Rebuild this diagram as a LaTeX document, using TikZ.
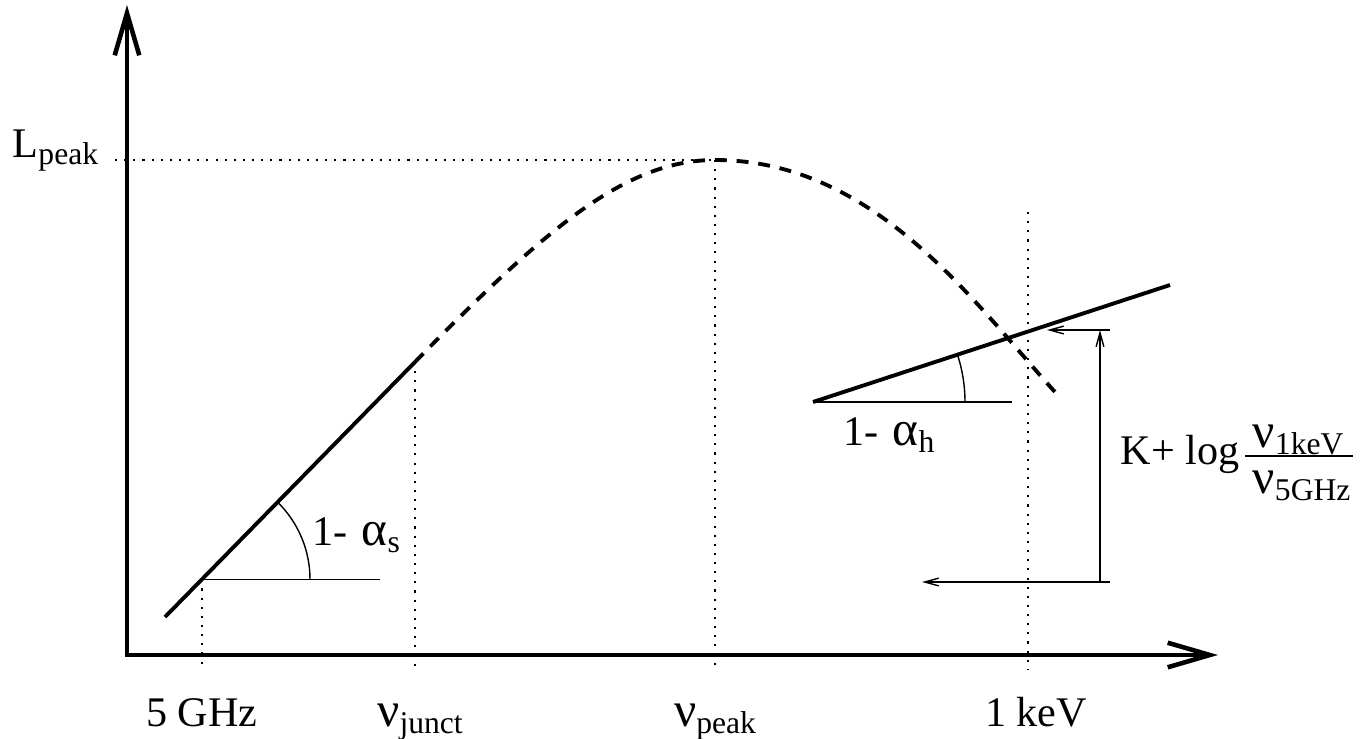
\documentclass[tikz,border=0pt]{standalone}
\usepackage{fontspec}
\setmainfont{Liberation Serif}
\usetikzlibrary{arrows.meta, positioning, calc}

\newcommand{\lowtxt}[1]{\raisebox{-2.2pt}{\fontsize{9}{10}\selectfont #1}}
\newcommand{\gk}[1]{{\fontsize{14}{15}\selectfont #1}}

\tikzset{
  axis/.style={line width=1.3pt, {Straight Barb[length=12pt,width=7pt]}-{Straight Barb[length=12pt,width=7pt]}},
  slope/.style={line width=1.1pt},
  model/.style={line width=1.1pt, dash pattern=on 3.4pt off 2.8pt},
  guide/.style={line width=0.6pt, dotted},
  thinref/.style={line width=0.4pt},
  measure/.style={line width=0.4pt, -{Straight Barb[length=4pt,width=2.2pt]}},
  lbl/.style={inner sep=0pt}
}

\begin{document}
\begin{tikzpicture}[font=\fontsize{12}{14}\selectfont]
            \useasboundingbox (0,0) rectangle (13.62,7.38);

            % Axes
            \coordinate (O) at (1.27,0.83);
            \coordinate (ytip) at (1.27,7.33);
            \coordinate (xtip) at (12.18,0.83);
            \draw[axis] (ytip) -- (O) -- (xtip);

            % Key points
            \coordinate (floor) at (0,0.68);
            \coordinate (lstart) at (1.15,5.78);
            \coordinate (lowend) at (1.65,1.21);
            \coordinate (ghz) at (2.02,1.587);
            \coordinate (junct) at (4.15,3.76);
            \coordinate (peak) at (7.15,5.78);
            \coordinate (tail) at (10.55,3.46);
            \coordinate (kev) at (10.28,5.26);
            \coordinate (hstart) at (8.13,3.36);
            \coordinate (hend) at (11.70,4.53);

            % Labels
            \node[lbl, anchor=base west] (Lpeak) at (0.12,5.81) {L\lowtxt{peak}};
            \node[lbl, anchor=base] (f5) at (2.02,0.12) {5 GHz};
            \node[lbl, anchor=base] (fjunct) at (4.20,0.12) {\gk{ν}\lowtxt{junct}};
            \node[lbl, anchor=base] (fpeak) at (7.15,0.12) {\gk{ν}\lowtxt{peak}};
            \node[lbl, anchor=base] (fkev) at (10.36,0.12) {1 keV};
            \node[lbl, anchor=base west] (as) at (3.12,1.93) {1-\hspace{4pt}\gk{α}\lowtxt{s}};
            \node[lbl, anchor=base west] (ah) at (8.43,2.93) {1-\hspace{4pt}\gk{α}\lowtxt{h}};
            \node[lbl, anchor=base west] (klog) at (11.20,2.74) {K+ log};
            \node[lbl, anchor=base west] (num) at (12.52,2.91) {\gk{ν}\lowtxt{1keV}};
            \node[lbl, anchor=base west] (den) at (12.52,2.45) {\gk{ν}\lowtxt{5GHz}};
            \coordinate (barl) at (12.45,2.82);
            \coordinate (barr) at (13.53,2.82);
            \draw[thinref] (barl) -- (barr);

            % Dotted guides
            \draw[guide] (lstart) -- (peak);
            \draw[guide] (ghz) -- (ghz |- floor);
            \draw[guide] (junct) -- (junct |- floor);
            \draw[guide] (peak) -- (peak |- floor);
            \draw[guide] (kev) -- (kev |- floor);

            % Soft slope
            \draw[slope] (lowend) -- (junct);
            \draw[thinref] (ghz) -- ++(1.78,0);
            \draw[thinref] ($(ghz)+(1.08,0)$) arc[start angle=0, end angle=45.6, radius=1.08];

            % Peaked model
            \draw[model] (junct) .. controls (5.45,5.086) and (6.25,5.78) .. (peak)
                .. controls (8.75,5.78) and (9.75,4.34) .. (tail);

            % Hard slope
            \draw[slope] (hstart) -- (hend);
            \draw[thinref] (hstart) -- ++(1.99,0);
            \draw[thinref] ($(hstart)+(1.52,0)$) arc[start angle=0, end angle=18.14, radius=1.52];

            % Offset between the two
            \coordinate (m1) at (11.10,4.08);
            \coordinate (m1tip) at (10.47,4.08);
            \coordinate (m2) at (11.10,1.56);
            \coordinate (m2tip) at (9.22,1.56);
            \coordinate (mtop) at (11.00,4.08);
            \coordinate (mbot) at (11.00,1.56);
            \draw[measure] (m1) -- (m1tip);
            \draw[measure] (m2) -- (m2tip);
            \draw[measure, {Straight Barb[length=4pt,width=2.2pt]}-] (mtop) -- (mbot);
\end{tikzpicture}
\end{document}
